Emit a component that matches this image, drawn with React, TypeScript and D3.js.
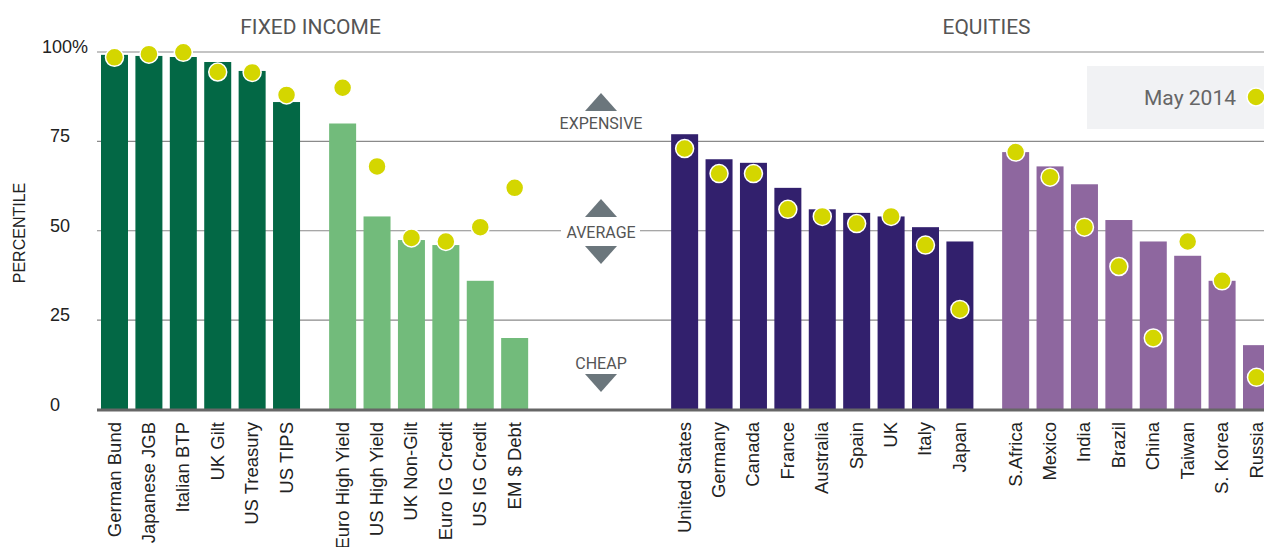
import React from "react";
import * as d3 from "d3";

// ---- DATA ----
const govBonds = ["German Bund", "Japanese JGB", "Italian BTP", "UK Gilt", "US Treasury", "US TIPS"];
const govBondsNow = [99.2, 98.9, 98.6, 97.2, 94.7, 86];
const govBondsMay = [98.5, 99.4, 99.9, 94.4, 94.3, 88];

const creditBonds = ["Euro High Yield", "US High Yield", "UK Non-Gilt", "Euro IG Credit", "US IG Credit", "EM $ Debt"];
const creditNow = [80, 54, 47.4, 46, 36, 20];
const creditMay = [90, 68, 48, 47, 51, 62];

const devEquities = ["United States", "Germany", "Canada", "France", "Australia", "Spain", "UK", "Italy", "Japan"];
const devNow = [77, 70, 69, 62, 56, 55, 54, 51, 47];
const devMay = [73, 66, 66, 56, 54, 52, 54, 46, 28];

const emEquities = ["S.Africa", "Mexico", "India", "Brazil", "China", "Taiwan", "S. Korea", "Russia"];
const emNow = [72, 68, 63, 53, 47, 43, 36, 18];
const emMay = [72, 65, 51, 40, 20, 47, 36, 9];

const yTicks = [0, 25, 50, 75, 100];
const yTickLabels = ["0", "25", "50", "75", "100%"];

const groupNames = ["FIXED INCOME", "EQUITIES"];
const legendLabel = "May 2014";

// ---- STYLE / LAYOUT ----
const W = 1264;
const H = 547;
const groups = [
  { names: govBonds, now: govBondsNow, may: govBondsMay, color: "#036845", gapBefore: 0 },
  { names: creditBonds, now: creditNow, may: creditMay, color: "#72BB7B", gapBefore: 1.63 },
  { names: devEquities, now: devNow, may: devMay, color: "#32206D", gapBefore: 4.94 },
  { names: emEquities, now: emNow, may: emMay, color: "#8E679F", gapBefore: 1.62 },
];
const DOT = "#D4D600";
const GRID = "#8a8a8a";
const TRI = "#6B767C";

export default function App() {
  const items: { name: string; now: number; may: number; color: string; slot: number }[] = [];
  let slot = 0;
  groups.forEach((g, gi) => {
    if (gi > 0) slot += g.gapBefore - 1;
    g.names.forEach((n, i) => {
      if (!(gi === 0 && i === 0)) slot += 1;
      items.push({ name: n, now: g.now[i], may: g.may[i], color: g.color, slot });
    });
  });
  const lastSlot = items[items.length - 1].slot;
  const x = d3.scaleLinear().domain([0, lastSlot]).range([101, 1243]);
  const barW = 27;
  const y = d3.scaleLinear().domain([0, 100]).range([409.5, 52]);

  const cx = 601;
  const tri = (x0: number, yTop: number, up: boolean) => {
    const w = 16, h = 18;
    return up
      ? `M${x0},${yTop} L${x0 + w},${yTop + h} L${x0 - w},${yTop + h} Z`
      : `M${x0 - w},${yTop} L${x0 + w},${yTop} L${x0},${yTop + h} Z`;
  };

  return (
    <svg width={W} height={H} style={{ position: "absolute", left: 0, top: 0, background: "#fff" }}
      fontFamily="'Liberation Sans', Arial, sans-serif">
      <text x={310.5} y={34} textAnchor="middle" fontFamily="Roboto, sans-serif" fontSize={21} fill="#555">{groupNames[0]}</text>
      <text x={986.5} y={34} textAnchor="middle" fontFamily="Roboto, sans-serif" fontSize={21} fill="#555">{groupNames[1]}</text>

      <rect x={1087} y={66} width={190} height={63} fill="#F1F2F4" />
      <text x={1236} y={105} textAnchor="end" fontFamily="Roboto, sans-serif" fontSize={21} fill="#666">{legendLabel}</text>
      <circle cx={1256} cy={97} r={9} fill={DOT} stroke="#fff" strokeWidth={1.5} />

      {yTicks.filter((t) => t > 0).map((t) => (
        <line key={t} x1={97} x2={W} y1={y(t)} y2={y(t)} stroke={GRID} strokeWidth={1.2} />
      ))}
      {yTicks.map((t, i) => (
        <text key={t} x={i === 4 ? 42 : 50} y={y(t) + 1} fontSize={18} fill="#222">{yTickLabels[i]}</text>
      ))}
      <text transform={`translate(25,233) rotate(-90)`} textAnchor="middle" fontSize={16} fill="#222">PERCENTILE</text>

      <path d={tri(cx, 93, true)} fill={TRI} />
      <text x={cx} y={129} textAnchor="middle" fontFamily="Roboto, sans-serif" fontSize={16} fill="#555">EXPENSIVE</text>
      <rect x={561} y={222} width={79} height={18} fill="#fff" />
      <path d={tri(cx, 199, true)} fill={TRI} />
      <text x={cx} y={237.5} textAnchor="middle" fontFamily="Roboto, sans-serif" fontSize={16} fill="#555">AVERAGE</text>
      <path d={tri(cx, 246, false)} fill={TRI} />
      <text x={cx} y={369} textAnchor="middle" fontFamily="Roboto, sans-serif" fontSize={16} fill="#555">CHEAP</text>
      <path d={tri(cx, 374, false)} fill={TRI} />

      {items.map((d) => (
        <rect key={d.name} x={x(d.slot)} y={y(d.now)} width={barW} height={y(0) - y(d.now)} fill={d.color} />
      ))}
      <line x1={97} x2={W} y1={410} y2={410} stroke="#666" strokeWidth={3} />
      {items.map((d) => (
        <circle key={d.name} cx={x(d.slot) + barW / 2} cy={y(d.may)} r={9} fill={DOT} stroke="#fff" strokeWidth={1.5} />
      ))}
      {items.map((d) => (
        <text key={d.name} transform={`translate(${x(d.slot) + barW / 2 + 6},422) rotate(-90)`} textAnchor="end" fontSize={18.5} fill="#222">{d.name}</text>
      ))}
    </svg>
  );
}
